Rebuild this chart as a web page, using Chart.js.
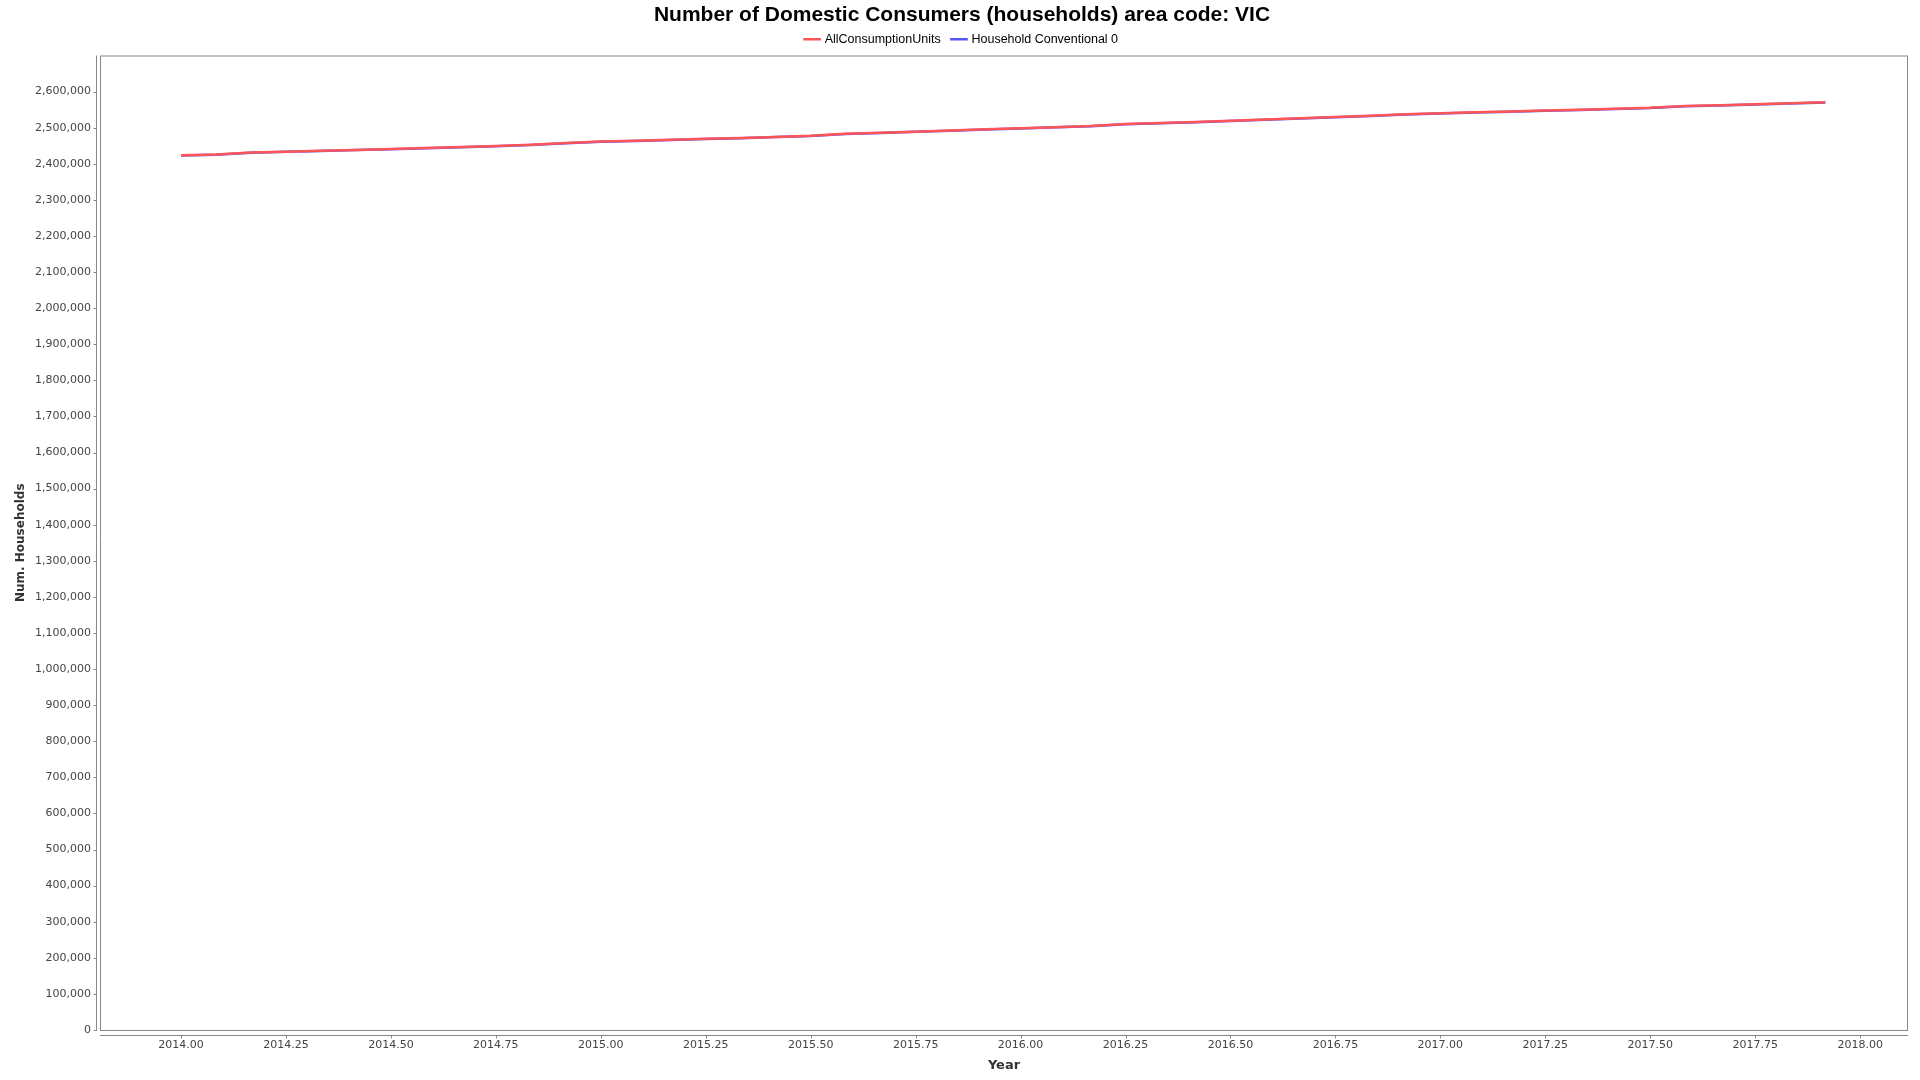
<!DOCTYPE html>
<html>
<head>
<meta charset="utf-8">
<script src="https://cdn.jsdelivr.net/npm/chart.js@4/dist/chart.umd.min.js"></script>
<style>
  html, body { margin: 0; padding: 0; background: #fff; }
  #wrap { width: 1920px; height: 1080px; position: relative; }
</style>
</head>
<body>
<div id="wrap"><canvas id="chart"></canvas></div>
<script>
const years = [
  2014.000, 2014.083, 2014.167, 2014.250, 2014.333, 2014.417, 2014.500, 2014.583, 2014.667, 2014.750, 2014.833, 2014.917,
  2015.000, 2015.083, 2015.167, 2015.250, 2015.333, 2015.417, 2015.500, 2015.583, 2015.667, 2015.750, 2015.833, 2015.917,
  2016.000, 2016.083, 2016.167, 2016.250, 2016.333, 2016.417, 2016.500, 2016.583, 2016.667, 2016.750, 2016.833, 2016.917,
  2017.000, 2017.083, 2017.167, 2017.250, 2017.333, 2017.417, 2017.500, 2017.583, 2017.667, 2017.750, 2017.833, 2017.917
];

const allConsumptionUnits = [
  2423500, 2425500, 2431000, 2433500, 2436000, 2438500, 2441000, 2443500, 2446500, 2449500, 2452500, 2457500,
  2461500, 2464000, 2466500, 2469000, 2471500, 2474500, 2477500, 2483000, 2486000, 2489000, 2492000, 2495500,
  2498500, 2501500, 2504500, 2510000, 2513000, 2516000, 2519000, 2522500, 2526000, 2529500, 2533000, 2537000,
  2540000, 2542500, 2545000, 2547500, 2550000, 2552500, 2555000, 2560000, 2562500, 2565000, 2567500, 2570500
];

const householdConventional0 = [
  2422800, 2424800, 2430400, 2433000, 2435300, 2437900, 2440300, 2442900, 2445800, 2448900, 2451800, 2456900,
  2460800, 2463400, 2465800, 2468400, 2470800, 2473900, 2476800, 2482400, 2485300, 2488400, 2491300, 2494900,
  2497800, 2500900, 2503800, 2509400, 2512300, 2515400, 2518300, 2521900, 2525300, 2528900, 2532300, 2536400,
  2539300, 2541900, 2544300, 2546900, 2549300, 2551900, 2554300, 2559400, 2561800, 2564400, 2566800, 2569900
];

const seriesNames = ['AllConsumptionUnits', 'Household Conventional 0'];
const seriesColors = ['rgb(255,85,85)', 'rgb(85,85,255)'];

const xMin = 2013.807, xMax = 2018.114;
const yMin = 0, yMax = 2700000;

const toPoints = vals => vals.map((v, i) => ({ x: years[i], y: v }));

// plot frame + offset axis lines like the original chart
const framePlugin = {
  id: 'frame',
  afterDraw(chart) {
    const { ctx, chartArea: a, scales } = chart;
    ctx.save();
    ctx.strokeStyle = '#888';
    ctx.lineWidth = 1;
    ctx.strokeRect(a.left + 0.5, a.top + 0.5, a.right - a.left - 1, a.bottom - a.top);
    // y axis line
    const yl = a.left - 3.5;
    ctx.beginPath();
    ctx.moveTo(yl, a.top);
    ctx.lineTo(yl, a.bottom + 1);
    // x axis line
    const xl = a.bottom + 5.5;
    ctx.moveTo(a.left, xl);
    ctx.lineTo(a.right, xl);
    ctx.stroke();
    // tick marks
    ctx.beginPath();
    scales.y.ticks.forEach(t => {
      if (t.value >= yMax) return;
      const p = Math.round(scales.y.getPixelForValue(t.value)) + 0.5;
      ctx.moveTo(yl, p);
      ctx.lineTo(yl - 3, p);
    });
    scales.x.ticks.forEach(t => {
      const p = Math.round(scales.x.getPixelForValue(t.value)) + 0.5;
      ctx.moveTo(p, xl);
      ctx.lineTo(p, xl + 3);
    });
    ctx.stroke();
    ctx.restore();
  }
};

new Chart(document.getElementById('chart'), {
  type: 'line',
  data: {
    datasets: [
      { label: seriesNames[0], data: toPoints(allConsumptionUnits), borderColor: seriesColors[0], backgroundColor: seriesColors[0], borderWidth: 2.5, pointRadius: 0, tension: 0 },
      { label: seriesNames[1], data: toPoints(householdConventional0), borderColor: seriesColors[1], backgroundColor: seriesColors[1], borderWidth: 2.5, pointRadius: 0, tension: 0 }
    ]
  },
  options: {
    responsive: true,
    maintainAspectRatio: false,
    devicePixelRatio: 1,
    animation: false,
    layout: { padding: { left: 16, right: 12, top: 0, bottom: 0 } },
    plugins: {
      title: {
        display: true,
        text: 'Number of Domestic Consumers (households) area code: VIC',
        color: '#000',
        font: { family: 'Liberation Sans', size: 21, weight: 'bold', lineHeight: 1 },
        padding: { top: 5, bottom: -5 }
      },
      legend: {
        display: true,
        labels: {
          usePointStyle: true,
          pointStyle: 'line',
          boxWidth: 15,
          color: '#000',
          font: { family: 'Liberation Sans', size: 12.5 },
          padding: 12
        }
      },
      tooltip: { enabled: false }
    },
    scales: {
      x: {
        type: 'linear',
        min: xMin,
        max: xMax,
        border: { display: false },
        grid: { display: false, drawTicks: false },
        title: {
          display: true,
          text: 'Year',
          color: '#333',
          font: { family: 'DejaVu Sans', size: 13, weight: 'bold' },
          padding: { top: 4, bottom: 7 }
        },
        ticks: {
          stepSize: 0.25,
          includeBounds: false,
          autoSkip: false,
          maxRotation: 0,
          padding: 9,
          color: '#444',
          font: { family: 'DejaVu Sans', size: 11 },
          callback: v => v.toFixed(2)
        },
        afterFit: s => { s.height = 50; }
      },
      y: {
        type: 'linear',
        min: yMin,
        max: yMax,
        border: { display: false },
        grid: { display: false, drawTicks: false },
        title: {
          display: true,
          text: 'Num. Households',
          color: '#333',
          font: { family: 'DejaVu Sans', size: 12, weight: 'bold' },
          padding: { top: -2, bottom: 4 }
        },
        ticks: {
          stepSize: 100000,
          padding: 9,
          color: '#444',
          font: { family: 'DejaVu Sans', size: 11 },
          callback: v => v >= yMax ? '' : v.toLocaleString('en-US')
        },
        afterFit: s => { s.width = 84; }
      }
    }
  },
  plugins: [framePlugin]
});
</script>
</body>
</html>
